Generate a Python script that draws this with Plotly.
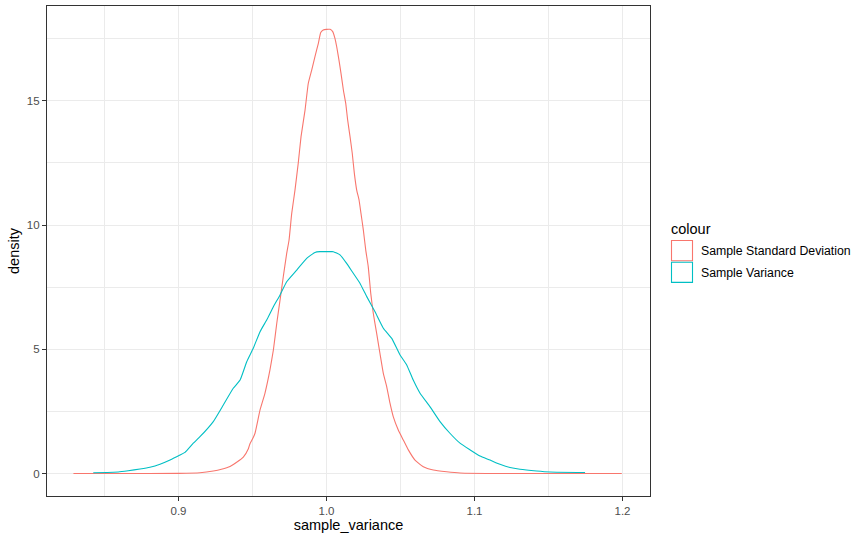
import plotly.graph_objects as go

# Sample Standard Deviation density
sd_x = [0.829, 0.86, 0.90, 0.9145, 0.9235, 0.929, 0.9348, 0.9393, 0.9438, 0.9472,
        0.9483, 0.9505, 0.9517, 0.9551, 0.9584, 0.9618, 0.9641, 0.9664, 0.9686, 0.9708,
        0.9731, 0.9747, 0.9765, 0.9787, 0.9809, 0.9828, 0.9855, 0.9877, 0.99, 0.9922,
        0.9945, 0.9961, 0.9978, 1.0, 1.0024, 1.0042, 1.0057, 1.0069, 1.0084, 1.0098,
        1.0114, 1.013, 1.0143, 1.0159, 1.0174, 1.0188, 1.0204, 1.022, 1.0233, 1.0249,
        1.0265, 1.0282, 1.0299, 1.0316, 1.0339, 1.0361, 1.0384, 1.0407, 1.0429, 1.0451,
        1.0485, 1.0519, 1.0553, 1.0598, 1.0654, 1.0722, 1.0812, 1.0902, 1.12, 1.1995]
sd_y = [0.0, 0.0, 0.005, 0.03, 0.1, 0.17, 0.28, 0.45, 0.66, 1.0,
        1.2, 1.45, 1.62, 2.56, 3.23, 4.17, 4.97, 6.05, 6.98, 7.92,
        8.86, 9.4, 10.47, 11.41, 12.49, 13.56, 14.63, 15.71, 16.24, 16.78,
        17.32, 17.75, 17.85, 17.88, 17.88, 17.79, 17.52, 17.18, 16.65, 16.11,
        15.44, 14.9, 14.23, 13.56, 12.89, 12.09, 11.41, 11.01, 10.47, 9.8,
        9.0, 8.33, 7.25, 6.45, 5.64, 4.84, 4.03, 3.49, 2.83, 2.29,
        1.75, 1.35, 0.95, 0.54, 0.27, 0.14, 0.07, 0.02, 0.0, 0.0]

# Sample Variance density
var_x = [0.8424, 0.8593, 0.866, 0.874, 0.8807, 0.8875, 0.8943, 0.901, 0.9044, 0.91,
         0.9145, 0.9235, 0.9303, 0.937, 0.9416, 0.9461, 0.9505, 0.9551, 0.9596, 0.9641,
         0.9686, 0.9731, 0.9799, 0.9866, 0.9922, 0.9956, 1.0024, 1.0046, 1.0091, 1.0136,
         1.0181, 1.0226, 1.0272, 1.0328, 1.0384, 1.0441, 1.0497, 1.0542, 1.0586, 1.0632,
         1.0699, 1.0767, 1.0834, 1.0902, 1.097, 1.1037, 1.1105, 1.1172, 1.124, 1.1307,
         1.142, 1.151, 1.1747]
var_y = [0.03, 0.06, 0.11, 0.18, 0.25, 0.37, 0.54, 0.74, 0.85, 1.22,
         1.48, 2.09, 2.76, 3.43, 3.76, 4.5, 5.04, 5.71, 6.18, 6.71,
         7.19, 7.72, 8.19, 8.66, 8.9, 8.93, 8.93, 8.93, 8.8, 8.46,
         8.06, 7.66, 7.12, 6.51, 5.85, 5.44, 4.77, 4.37, 3.76, 3.23,
         2.69, 2.09, 1.62, 1.22, 0.95, 0.7, 0.54, 0.37, 0.24, 0.17,
         0.1, 0.06, 0.04]

series_names = ["Sample Standard Deviation", "Sample Variance"]
series_colors = ["#F8766D", "#00BFC4"]

x_ticks = [0.9, 1.0, 1.1, 1.2]
x_tick_labels = ["0.9", "1.0", "1.1", "1.2"]
y_ticks = [0, 5, 10, 15]
y_tick_labels = ["0", "5", "10", "15"]

FONT = "Liberation Sans, Arial, sans-serif"

fig = go.Figure()
fig.add_trace(go.Scatter(x=sd_x, y=sd_y, mode="lines", name=series_names[0],
                         line=dict(color=series_colors[0], width=1.1, shape="spline", smoothing=0.4),
                         showlegend=False))
fig.add_trace(go.Scatter(x=var_x, y=var_y, mode="lines", name=series_names[1],
                         line=dict(color=series_colors[1], width=1.1, shape="spline", smoothing=0.4),
                         showlegend=False))

axis_common = dict(
    showgrid=True, gridcolor="#EBEBEB", gridwidth=1.1,
    showline=True, linecolor="#333333", linewidth=1.1, mirror=True,
    ticks="outside", ticklen=4, tickcolor="#333333", tickwidth=1.1,
    tickfont=dict(family=FONT, size=11.5, color="#4D4D4D"),
    zeroline=False,
)

fig.update_xaxes(**axis_common, range=[0.81115, 1.21858],
                 tickvals=x_ticks, ticktext=x_tick_labels,
                 minor=dict(dtick=0.1, tick0=0.85, showgrid=True, gridcolor="#EBEBEB",
                            gridwidth=0.55, ticks=""),
                 title=dict(text="sample_variance", font=dict(family=FONT, size=14.5, color="black"),
                            standoff=4))
fig.update_yaxes(**axis_common, range=[-0.906, 18.82],
                 tickvals=y_ticks, ticktext=y_tick_labels,
                 minor=dict(dtick=5, tick0=2.5, showgrid=True, gridcolor="#EBEBEB",
                            gridwidth=0.55, ticks=""),
                 title=dict(text="density", font=dict(family=FONT, size=14.5, color="black"),
                            standoff=3))

# Manual legend (ggplot-style boxes)
W, H = 866, 540
L, R, T, B = 47, 216, 6, 44
pw, ph = W - L - R, H - T - B

def px_to_paper(px, py):
    return (px - L) / pw, (H - B - py) / ph

shapes = []
annotations = []
tx, ty = px_to_paper(669, 229)
annotations.append(dict(x=tx, y=ty, xref="paper", yref="paper", text="colour",
                        showarrow=False, xanchor="left", yanchor="middle",
                        font=dict(family=FONT, size=14.5, color="black")))
for i, (nm, col) in enumerate(zip(series_names, series_colors)):
    top = 240 + i * 21.7
    x0, y1 = px_to_paper(671.5, top + 0.5)
    x1, y0 = px_to_paper(692.5, top + 20.7)
    shapes.append(dict(type="rect", xref="paper", yref="paper", x0=x0, x1=x1, y0=y0, y1=y1,
                       line=dict(color=col, width=1.1), fillcolor="white", layer="above"))
    lx, ly = px_to_paper(699.5, top + 11)
    annotations.append(dict(x=lx, y=ly, xref="paper", yref="paper", text=nm,
                            showarrow=False, xanchor="left", yanchor="middle",
                            font=dict(family=FONT, size=12.3, color="black")))

fig.update_layout(
    width=W, height=H,
    margin=dict(l=L, r=R, t=T, b=B, autoexpand=False),
    paper_bgcolor="white", plot_bgcolor="white",
    shapes=shapes, annotations=annotations,
    font=dict(family=FONT),
)

fig.write_html("out.html")
